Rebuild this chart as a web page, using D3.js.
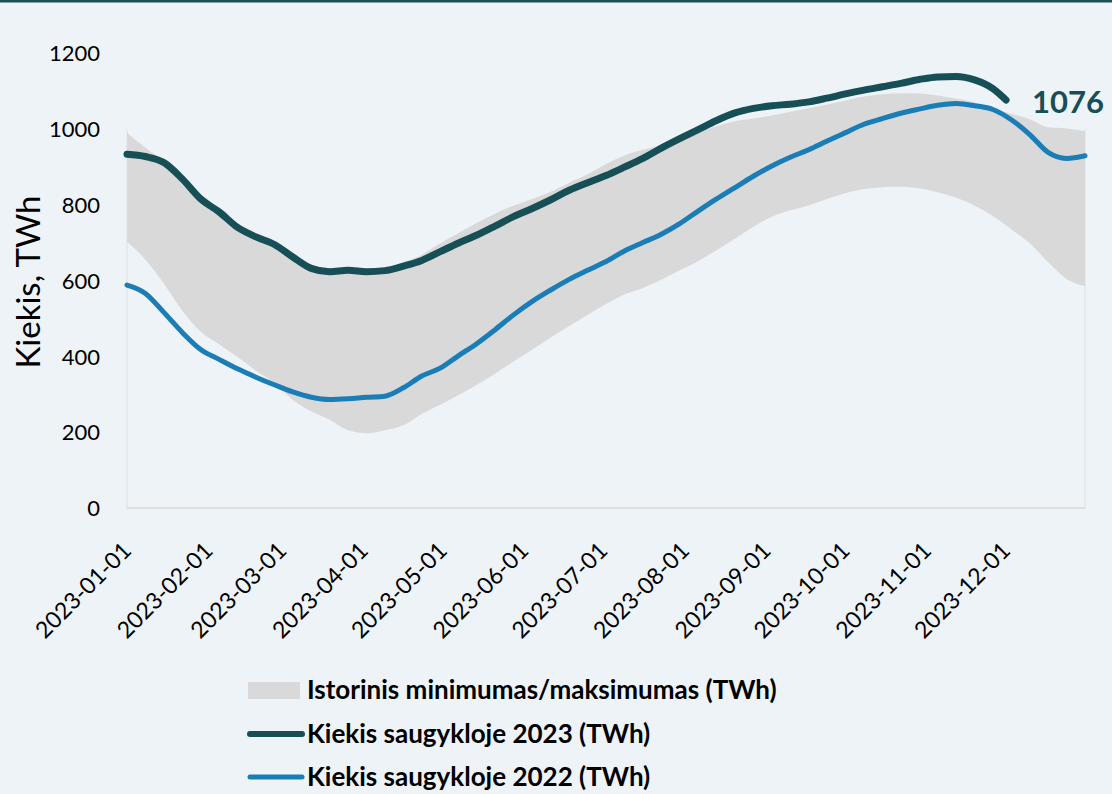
<!DOCTYPE html>
<html><head><meta charset="utf-8">
<script src="https://cdn.jsdelivr.net/npm/d3@7"></script>
<style>
html,body{margin:0;padding:0;background:#eef3f7;}
svg{display:block;}
text{font-family:Lato,"Open Sans",sans-serif;}
</style></head>
<body>
<svg id="chart" width="1112" height="794"></svg>
<script>
// ---- data (weekly readings, TWh) ----
const dates = ["2023-01-01","2023-01-08","2023-01-15","2023-01-22","2023-01-29","2023-02-05","2023-02-12","2023-02-19","2023-02-26",
"2023-03-05","2023-03-12","2023-03-19","2023-03-26","2023-04-02","2023-04-09","2023-04-16","2023-04-23","2023-04-30",
"2023-05-07","2023-05-14","2023-05-21","2023-05-28","2023-06-04","2023-06-11","2023-06-18","2023-06-25",
"2023-07-02","2023-07-09","2023-07-16","2023-07-23","2023-07-30","2023-08-06","2023-08-13","2023-08-20","2023-08-27",
"2023-09-03","2023-09-10","2023-09-17","2023-09-24","2023-10-01","2023-10-08","2023-10-15","2023-10-22","2023-10-29",
"2023-11-05","2023-11-12","2023-11-19","2023-11-26","2023-12-03","2023-12-10","2023-12-17","2023-12-24","2023-12-31"];

const histMax = [990,950,915,872,820,786,745,720,700,667,637,628,632,628,632,648,668,698,725,752,777,798,815,834,858,880,907,930,945,957,972,990,1007,1020,1027,1035,1045,1054,1064,1075,1085,1091,1094,1093,1088,1080,1070,1054,1040,1025,1004,1001,994];
const histMin = [702,655,592,520,465,432,398,362,330,285,255,233,205,197,205,218,248,272,298,325,355,387,418,450,480,510,538,563,580,602,627,651,680,710,742,768,785,798,815,830,841,846,847,843,833,818,798,770,735,698,648,604,585];
const stock2022 = [588,566,516,463,418,392,367,345,325,306,292,286,288,292,295,317,348,369,402,434,471,510,545,575,603,627,650,678,700,722,750,783,815,845,875,902,925,945,968,990,1012,1027,1041,1052,1062,1067,1061,1051,1024,985,938,922,929];
const dates2023 = dates.slice(0,48).concat(["2023-12-01"]);
const stock2023 = [933,927,911,868,815,781,740,715,695,662,632,623,627,623,626,638,653,676,699,720,744,769,790,813,838,858,877,899,922,949,974,998,1022,1042,1054,1061,1065,1071,1081,1092,1102,1111,1120,1130,1137,1138,1129,1106,1076];
const yTicks = [0,200,400,600,800,1000,1200];
const xTicks = ["2023-01-01","2023-02-01","2023-03-01","2023-04-01","2023-05-01","2023-06-01","2023-07-01","2023-08-01","2023-09-01","2023-10-01","2023-11-01","2023-12-01"];
const legendLabels = ["Istorinis minimumas/maksimumas (TWh)","Kiekis saugykloje 2023 (TWh)","Kiekis saugykloje 2022 (TWh)"];
const yTitle = "Kiekis, TWh";
const lastLabel = "1076";

// ---- setup ----
const parse = d3.timeParse("%Y-%m-%d");
const svg = d3.select("#chart");
const C_DARK = "#174f57", C_BLUE = "#1a7db5", C_BAND = "#d9d9d9";

svg.append("rect").attr("width",1112).attr("height",794).attr("fill","#eef3f7");
svg.append("rect").attr("x",0).attr("y",0).attr("width",1112).attr("height",2.5).attr("fill","#1b4f5a");

const x = d3.scaleTime().domain([parse("2023-01-01"), parse("2023-12-31")]).range([127,1085]);
const y = d3.scaleLinear().domain([0,1200]).range([508,53]);

// axis lines
svg.append("line").attr("x1",x.range()[0]).attr("x2",x.range()[0]).attr("y1",y(0)).attr("y2",y(1000)).attr("stroke","#dde2e6").attr("stroke-width",1);
svg.append("line").attr("x1",x.range()[1]).attr("x2",x.range()[1]).attr("y1",y(0)).attr("y2",y(1000)).attr("stroke","#dde2e6").attr("stroke-width",1);

// band
const bandData = dates.map((d,i)=>({d:parse(d),lo:histMin[i],hi:histMax[i]}));
svg.append("path").datum(bandData)
  .attr("fill",C_BAND)
  .attr("d", d3.area().x(p=>x(p.d)).y0(p=>y(p.lo)).y1(p=>y(p.hi)).curve(d3.curveMonotoneX));

// bottom axis line
svg.append("line").attr("x1",x.range()[0]).attr("x2",x.range()[1]).attr("y1",y(0)).attr("y2",y(0)).attr("stroke","#d9d9d9").attr("stroke-width",1.5);

// lines
const line = d3.line().x(p=>x(p.d)).y(p=>y(p.v)).curve(d3.curveMonotoneX);
const d22 = dates.map((d,i)=>({d:parse(d),v:stock2022[i]}));
const d23 = dates2023.map((d,i)=>({d:parse(d),v:stock2023[i]}));
svg.append("path").datum(d22).attr("fill","none").attr("stroke",C_BLUE).attr("stroke-width",5).attr("stroke-linecap","round").attr("stroke-linejoin","round").attr("d",line);
svg.append("path").datum(d23).attr("fill","none").attr("stroke",C_DARK).attr("stroke-width",7).attr("stroke-linecap","round").attr("stroke-linejoin","round").attr("d",line);

// last value label
const last = d23[d23.length-1];
svg.append("text").attr("x",x(last.d)+26).attr("y",y(last.v)+13)
  .attr("font-size",31).attr("font-weight","bold").attr("fill",C_DARK).text(lastLabel);

// y axis
const yAxis = d3.axisLeft(y).tickValues(yTicks).tickSize(0).tickPadding(0).tickFormat(d3.format("d"));
const gy = svg.append("g").attr("transform","translate(100,0)").call(yAxis);
gy.select(".domain").remove();
gy.selectAll("text").attr("font-size",22).attr("fill","#000").attr("font-family","Lato").attr("dy","0.35em");

// x axis
const xAxis = d3.axisBottom(x).tickValues(xTicks.map(parse)).tickSize(0).tickFormat(d3.timeFormat("%Y-%m-%d"));
const gx = svg.append("g").attr("transform","translate(0,508)").call(xAxis);
gx.select(".domain").remove();
gx.selectAll("text").attr("font-size",23).attr("fill","#000").attr("font-family","Lato")
  .attr("text-anchor","end").attr("dy",null).attr("y",null)
  .attr("transform","translate(1,40) rotate(-45)").attr("dominant-baseline","middle");

// y title
svg.append("text").attr("transform","translate(40,282) rotate(-90)").attr("text-anchor","middle")
  .attr("font-size",33).attr("fill","#000").text(yTitle);

// legend
const lg = svg.append("g");
const rows = [690,734,777];
lg.append("rect").attr("x",248).attr("y",rows[0]-8).attr("width",52).attr("height",17).attr("fill",C_BAND);
lg.append("line").attr("x1",250).attr("x2",302).attr("y1",rows[1]).attr("y2",rows[1]).attr("stroke",C_DARK).attr("stroke-width",6).attr("stroke-linecap","round");
lg.append("line").attr("x1",250).attr("x2",302).attr("y1",rows[2]).attr("y2",rows[2]).attr("stroke",C_BLUE).attr("stroke-width",5).attr("stroke-linecap","round");
legendLabels.forEach((t,i)=>{
  lg.append("text").attr("x",307).attr("y",rows[i]).attr("dy","0.36em")
    .attr("font-size",26).attr("font-weight","bold").attr("fill","#000").text(t);
});
</script>
</body></html>
